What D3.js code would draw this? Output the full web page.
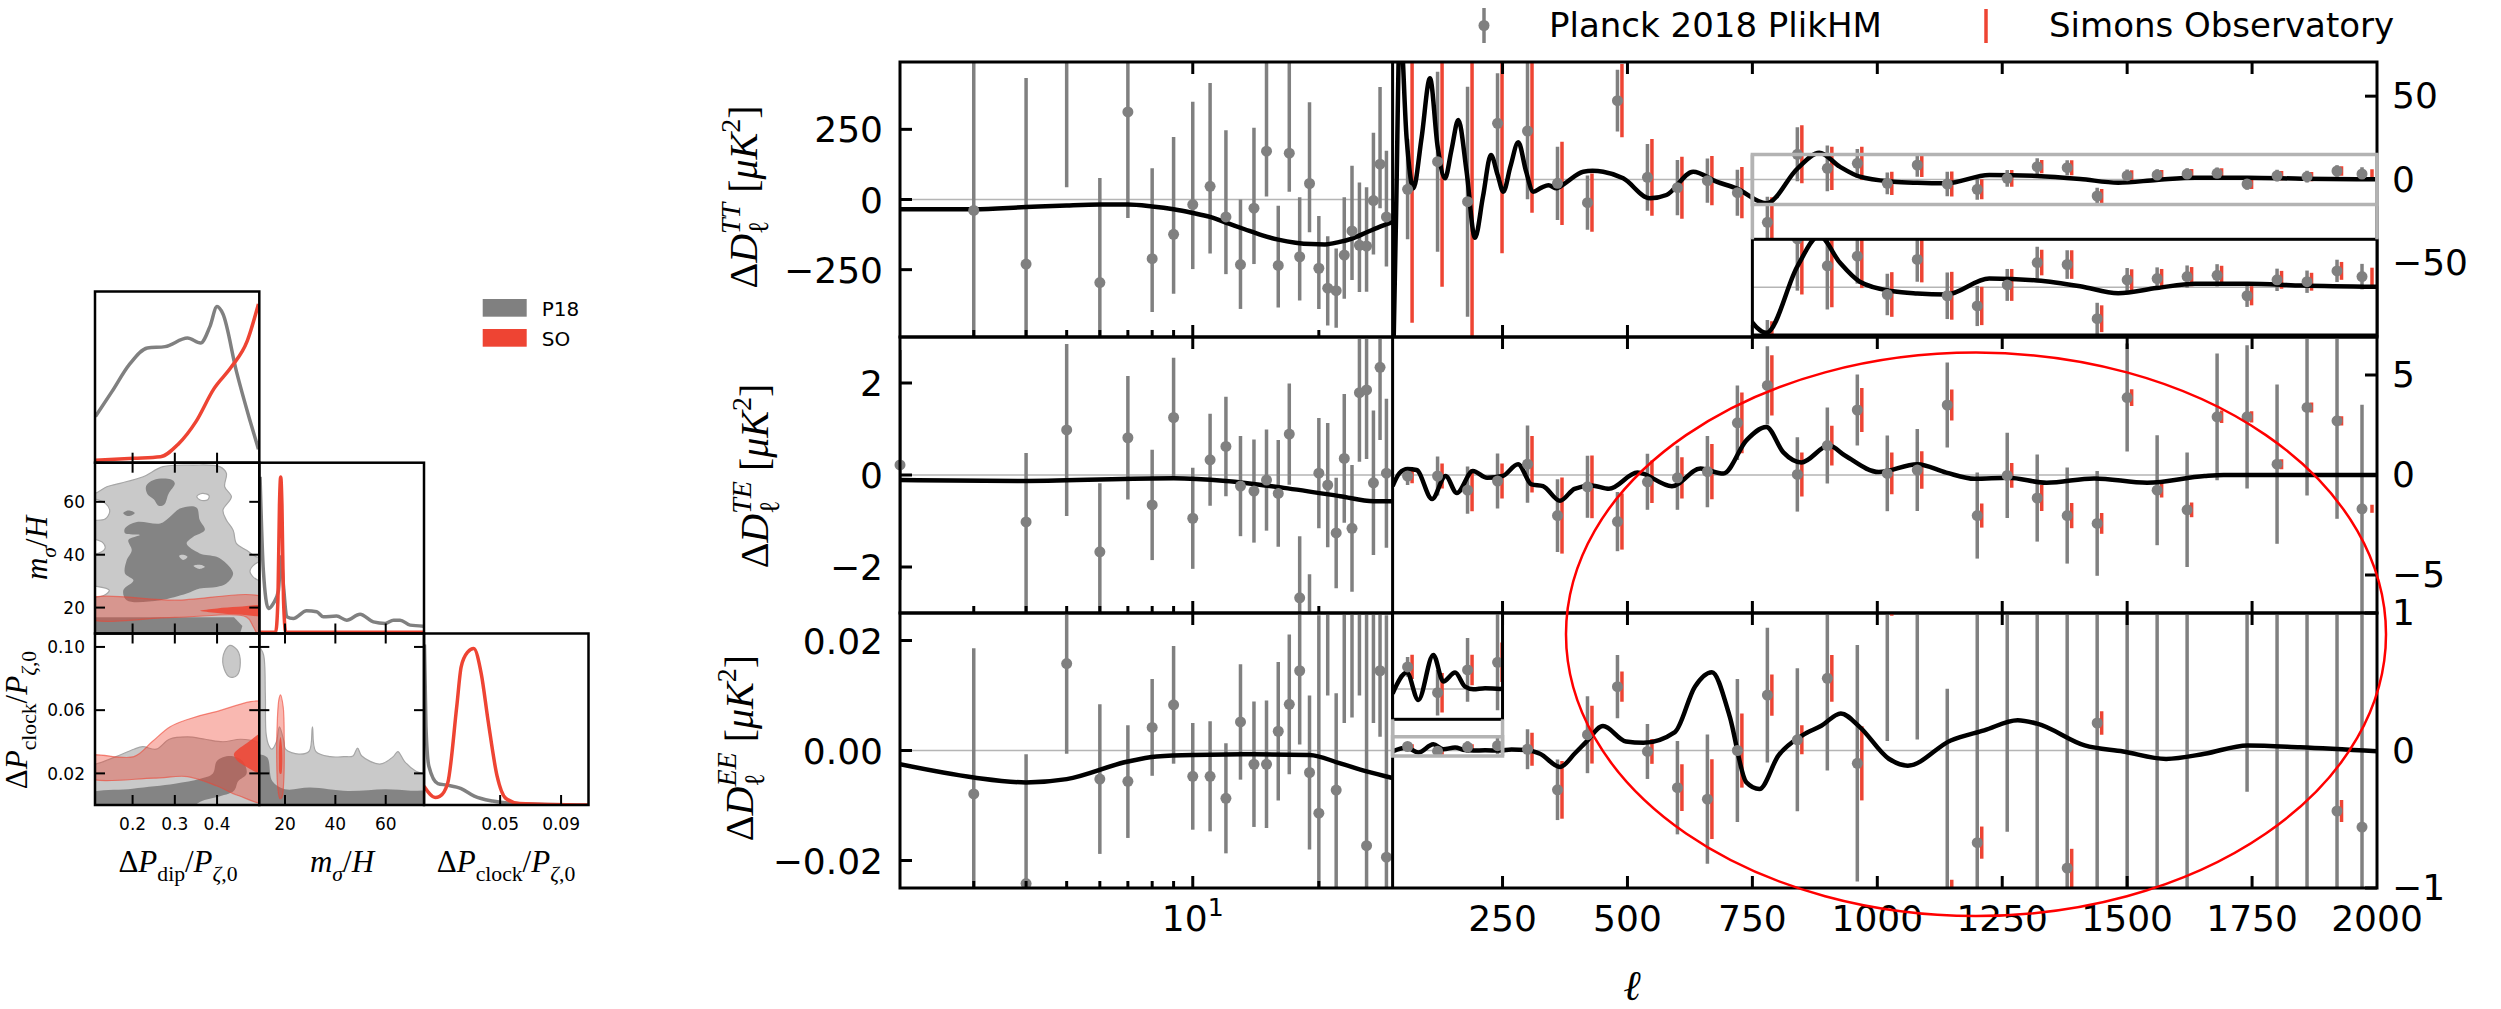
<!DOCTYPE html>
<html>
<head>
<meta charset="utf-8">
<title>Clock signal: posteriors and residual spectra</title>
<script src="https://cdn.jsdelivr.net/npm/d3@7"></script>
<style>
	html, body { margin: 0; padding: 0; background: #fff; }
	svg { display: block; }
</style>
</head>
<body>
<svg id="fig" width="2501" height="1009"></svg>
<script>
// ---------------- triangle plot: 1D marginals (normalised height) ----------------
const dipP18X = [0.112, 0.151, 0.193, 0.235, 0.277, 0.33, 0.361, 0.383, 0.40, 0.414, 0.446, 0.477, 0.498];
const dipP18Y = [0.269, 0.415, 0.576, 0.670, 0.678, 0.728, 0.699, 0.795, 0.912, 0.868, 0.532, 0.254, 0.079];
const dipSOX = [0.112, 0.203, 0.266, 0.308, 0.35, 0.392, 0.434, 0.471, 0.498];
const dipSOY = [0.015, 0.026, 0.035, 0.108, 0.24, 0.43, 0.56, 0.708, 0.927];
const msP18X = [10.1, 11.4, 13.4, 15.4, 17.4, 18.4, 19.4, 20.7, 23.3, 28.6, 32.6, 35.2, 40.5, 44.5, 49.8, 55.1, 59.8, 63.1, 65.7, 69.7, 75];
const msP18Y = [0.917, 0.371, 0.147, 0.177, 0.25, 0.45, 0.28, 0.098, 0.088, 0.133, 0.127, 0.098, 0.102, 0.078, 0.113, 0.068, 0.059, 0.078, 0.078, 0.049, 0.043];
const msSOX = [10, 16.3, 17.2, 17.8, 18.3, 18.8, 19.4, 20.3, 75];
const msSOY = [0.007, 0.008, 0.2, 0.75, 0.917, 0.75, 0.2, 0.008, 0.007];
const clkP18X = [0.0003, 0.0013, 0.0032, 0.0091, 0.015, 0.0244, 0.033, 0.045, 0.059, 0.108];
const clkP18Y = [0.936, 0.457, 0.226, 0.125, 0.116, 0.096, 0.052, 0.023, 0.009, 0];
const clkSOX = [0, 0.0074, 0.0103, 0.0155, 0.0215, 0.0244, 0.0288, 0.0326, 0.0376, 0.0421, 0.048, 0.0538, 0.0627, 0.108];
const clkSOY = [0.11, 0.044, 0.05, 0.125, 0.574, 0.806, 0.893, 0.913, 0.765, 0.49, 0.168, 0.038, 0.009, 0];

// ---------------- triangle plot: 2D contours (outlines in parameter units) ----------------
// dip vs m_sigma/H
const dipMsP18Outer = [[0.09,63.2],[0.111,63.2],[0.139,65.7],[0.17,67],[0.225,69.5],[0.272,73.3],[0.343,73.9],[0.406,73.3],[0.422,70.8],[0.418,65.7],[0.434,61.9],[0.414,56.9],[0.422,53.1],[0.438,49.3],[0.446,44.2],[0.47,41.7],[0.493,39.2],[0.52,38.5],[0.52,8],[0.09,8]];
const dipMsHoles = [
	[[0.352,62],[0.365,63.2],[0.381,62.4],[0.378,60.8],[0.36,60.7]],
	[[0.09,61],[0.111,61],[0.135,59.5],[0.146,56.5],[0.135,53.5],[0.111,53],[0.09,53]],
	[[0.09,46],[0.111,45.8],[0.13,44.5],[0.135,42.5],[0.12,40.6],[0.09,40.5]],
	[[0.09,28],[0.115,28],[0.145,26.5],[0.13,24.5],[0.09,24.5]],
	[[0.52,37.5],[0.49,36.5],[0.478,33.5],[0.495,30.5],[0.52,30]]
];
const dipMsP18Inner = [
	[[0.232,66],[0.25,68.3],[0.29,68.5],[0.3,67],[0.285,63],[0.275,59],[0.262,58.5],[0.25,61],[0.235,63]],
	[[0.178,55.7],[0.19,56.7],[0.205,55.8],[0.19,54.6]],
	[[0.182,50],[0.21,52.4],[0.265,51.8],[0.288,54.3],[0.312,57.5],[0.351,57.9],[0.359,53.1],[0.371,49.3],[0.343,46.7],[0.328,44.2],[0.359,40.5],[0.399,39.2],[0.422,36.7],[0.438,32.9],[0.422,29.1],[0.399,27.8],[0.359,27.2],[0.328,25.3],[0.265,22.8],[0.186,22.8],[0.178,26.6],[0.202,30.3],[0.182,32.9],[0.186,37.9],[0.198,41.7],[0.19,45.6],[0.217,47.5],[0.182,48.1]]
];
const dipMsP18Spots = [
	[[0.31,39.6],[0.32,40],[0.33,39.2],[0.32,38]],
	[[0.344,35.8],[0.36,36.2],[0.371,35.4],[0.358,34.6]]
];
const dipMsP18Strip = [[0.09,16.3],[0.44,16.3],[0.46,13],[0.45,8],[0.09,8]];
const dipMsSOOuter = [[0.09,22.8],[0.3,22.8],[0.52,23],[0.52,9],[0.5,9],[0.485,13],[0.47,16.4],[0.3,16.3],[0.09,16.3]];
const dipMsSOInner = [[0.36,18.8],[0.4,19.7],[0.45,20.3],[0.52,20.5],[0.52,17.2],[0.45,17.4],[0.4,18]];
// dip vs clock
const dipClkP18Outer = [[0.09,0.0259],[0.112,0.0259],[0.161,0.0306],[0.203,0.0353],[0.224,0.0369],[0.256,0.0353],[0.287,0.0416],[0.33,0.0431],[0.372,0.0416],[0.414,0.04],[0.456,0.0416],[0.493,0.04],[0.52,0.035],[0.52,-0.01],[0.09,-0.01]];
const dipClkP18Island = [[0.415,0.095],[0.43,0.101],[0.448,0.098],[0.455,0.09],[0.447,0.082],[0.43,0.081],[0.417,0.086]];
const dipClkP18Inner = [[0.09,0.006],[0.2,0.0103],[0.3,0.0135],[0.36,0.0166],[0.39,0.02],[0.4,0.028],[0.43,0.031],[0.46,0.028],[0.47,0.02],[0.45,0.015],[0.44,0.009],[0.4,0.005],[0.36,0.002],[0.3,-0.01],[0.09,-0.01]];
const dipClkSOOuter = [[0.09,0.0306],[0.203,0.0306],[0.246,0.04],[0.288,0.0494],[0.33,0.0541],[0.393,0.0588],[0.52,0.064],[0.52,0.002],[0.45,0.006],[0.40,0.012],[0.33,0.018],[0.25,0.017],[0.09,0.018]];
const dipClkSOInner = [[0.44,0.0322],[0.47,0.039],[0.52,0.047],[0.52,0.019],[0.47,0.024],[0.445,0.029]];
// m_sigma/H vs clock
const msClkP18Outer = [[8,0.105],[10,0.1],[11.5,0.095],[12.2,0.07],[12.5,0.045],[13.5,0.038],[14.8,0.0353],[16.6,0.04],[17.8,0.0494],[19.6,0.04],[20.2,0.0353],[25.5,0.0322],[29.6,0.034],[30.9,0.0494],[32.2,0.034],[38,0.0306],[43.4,0.0306],[47,0.031],[48.8,0.036],[50.5,0.031],[57.7,0.0259],[63,0.0306],[64.8,0.0338],[67.5,0.0275],[72,0.0213],[77,0.018],[77,-0.01],[8,-0.01]];
const msClkP18Inner = [[8,0.032],[10,0.032],[13,0.03],[15,0.015],[20,0.01],[30,0.011],[45,0.0088],[60,0.01],[70,0.009],[77,0.008],[77,-0.01],[8,-0.01]];
const msClkSOOuter = [[18.2,0.0697],[19.3,0.062],[19.7,0.04],[19.5,0.015],[18.8,0.005],[18,0.004],[17.2,0.01],[16.7,0.03],[17,0.055],[17.6,0.067]];
const msClkSOInner = [[18.2,0.043],[18.8,0.037],[18.9,0.025],[18.5,0.0197],[17.9,0.02],[17.6,0.028],[17.7,0.038]];

const dipTicks = [0.2, 0.3, 0.4];
const msTicks = [20, 40, 60];
const clkXTicks = [0.05, 0.09];
const clkYTicks = [0.02, 0.06, 0.10];

// ---------------- residual spectra: low-ell (log axis, Planck only) ----------------
const ttLowEll = [3,4,5,6,7,8,9,10,11,12,13,14,15,16,17,18,19,20,21,22,23,24,25,26,27,28,29];
const ttLowVal = [-39,-230,650,-296,312,-211,-124,-18,47,-62,-232,-31,172,-235,165,-204,57,-245,-316,-325,-198,-112,-163,-166,-4,126,-62];
const ttLowErrHi = [600,663,600,373,400,322,347,366,368,309,232,287,330,213,321,212,290,186,185,150,206,232,224,210,242,275,236];
const ttLowErrLo = [600,500,606,400,378,190,212,230,239,204,158,199,161,150,137,156,174,145,133,132,156,175,167,163,192,157,177];

const teLowEll = [2,4,5,6,7,8,9,10,11,12,13,14,15,16,17,18,19,20,21,22,23,24,25,26,27,28,29];
const teLowVal = [0.22,-1.02,0.98,-1.67,0.81,-0.65,1.25,-0.94,0.33,0.62,-0.24,-0.35,-0.11,-0.4,0.89,-2.67,-3.3,0.04,-0.22,-1.26,0.36,-1.16,1.79,1.85,-0.17,2.34,0.04];
const teLowErrHi = [2.5,1.5,1.87,1.49,1.34,1.2,1.3,1.1,1.0,1.08,1.09,1.12,1.1,1.16,1.1,1.34,1.14,1.2,1.35,1.2,1.4,1.38,1.5,1.5,1.57,1.58,1.62];
const teLowErrLo = [2.5,2.5,1.87,1.5,1.34,1.2,1.3,1.1,1.0,1.08,1.09,1.12,1.1,1.16,1.1,1.34,1.14,1.2,1.35,1.2,1.4,1.38,1.5,1.5,1.57,1.58,1.62];

const eeLowEll = [3,4,5,6,7,8,9,10,11,12,13,14,15,16,17,18,19,20,21,22,23,24,25,26,27,28,29];
const eeLowVal = [-0.0079,-0.0242,0.0158,-0.0052,-0.0056,0.0042,0.0083,-0.0047,-0.0047,-0.0087,0.0052,-0.0025,-0.0025,0.0035,0.0084,0.0145,-0.004,-0.0114,0.03,-0.0072,0.03,0.028,0.035,-0.0173,0.035,0.0145,-0.0194];
const eeLowErrHi = [0.0265,0.0235,0.02,0.0136,0.0102,0.0088,0.0107,0.0097,0.01,0.01,0.0105,0.0114,0.0116,0.0126,0.0127,0.0134,0.014,0.036,0.02,0.0176,0.025,0.022,0.025,0.042,0.03,0.03,0.044];
const eeLowErrLo = [0.025,0.02,0.0164,0.0136,0.0103,0.0088,0.0107,0.0097,0.01,0.01,0.0105,0.0114,0.0116,0.0126,0.0127,0.0134,0.014,0.016,0.02,0.025,0.025,0.022,0.025,0.01,0.03,0.012,0.01];

// ---------------- residual spectra: high-ell (linear axis, Planck + SO) ----------------
const highEll = [60,120,180,240,300,360,420,480,540,600,660,720,780,840,900,960,1020,1080,1140,1200,1260,1320,1380,1440,1500,1560,1620,1680,1740,1800,1860,1920,1970];
const soEll = [69,129,189,249,309,369,429,489,549,609,669,729,789,849,909,969,1029,1089,1149,1209,1269,1329,1389,1449,1509,1569,1629,1689,1749,1809,1869,1929,1990];

const ttHighVal = [-5.9,10.7,-13.3,33.7,29.1,-2.3,-13.9,47.3,1.3,-4.9,-0.7,-7.9,-25.7,15.1,6.7,9.7,-2.3,8.7,-2.7,-5.9,0.7,7.7,7.1,-9.9,2.3,2.7,3.3,3.7,-2.7,2.3,1.7,5.1,3.3];
const ttHighErr = [30,54,69,30,41,22,16.3,18.5,20,16.6,13.3,13.8,15.4,16.2,13.7,8.6,6.5,7,7.3,6.3,5,5,4.5,5,3.7,3.5,3.5,3.5,3.5,3.5,3.5,3.5,4];
const ttSoErr = [80,75,100,78,49,25,17.5,22,23,18.6,14.8,15.4,15,17.4,13,10,7,7.2,7.5,6,5,4,4.5,4.2,3.3,3,3,3,3,2.8,2.8,2.8,2.8];

const teHighVal = [-0.05,-0.05,-0.76,-0.3,0.54,-2.03,-0.59,-2.33,-0.34,-0.14,0.17,2.61,4.48,0.03,1.47,3.25,0.08,0.25,3.5,-2.03,-0.02,-1.15,-2.03,-2.42,3.87,-0.76,-1.74,2.91,2.91,0.54,3.38,2.71,-1.69];
const teHighErr = [0.45,0.97,1.18,1.37,1.93,1.82,1.55,1.48,1.4,1.6,1.78,1.86,1.96,1.86,1.9,1.78,1.89,2.05,2.13,2.15,2.13,2.18,2.4,2.62,2.7,2.75,2.86,3.17,3.58,3.98,4.4,4.9,5.2];
const teSoErr = [0.36,0.62,1.05,0.88,1.41,1.9,1.57,1.4,1.06,1.03,1.38,1.52,1.51,1.1,0.99,1.1,1.04,0.94,0.78,0.6,0.62,0.65,0.63,0.52,0.42,0.36,0.37,0.31,0.28,0.25,0.25,0.23,0.2];

const eeHighVal = [0.029,-0.005,0.025,0.035,0.009,-0.286,0.115,0.464,-0.007,-0.27,-0.354,0,0.403,0.078,0.525,-0.093,1.05,1.2,-1.1,-0.67,1.3,1.5,-0.855,0.2,1.6,-1.5,1.7,4.5,1.5,-1.3,1.4,-0.44,-0.557];
const eeHighErr = [0.013,0.03,0.042,0.063,0.145,0.22,0.28,0.23,0.2,0.34,0.47,0.52,0.49,0.52,0.67,0.86,0.98,1.12,1.55,1.7,1.89,3,1.9,2,3,3,3,3,1.8,2.5,2.6,2.7,2.8];
const eeSoErr = [0.016,0.026,0.02,0.026,0.12,0.21,0.21,0.11,0.09,0.17,0.29,0.27,0.15,0.105,0.17,0.27,0.07,0.12,0.16,0.117,0.12,0.12,0.14,0.085,0.1,0.1,0.1,0.1,0.1,0.1,0.1,0.08,null];

// ---------------- best-fit residual model curves [ell, value] ----------------
const ttLowCurve = [[2,-35],[3,-35],[4,-27],[5,-21],[6,-18],[7,-18],[8,-25],[9,-35],[10,-48],[11,-62],[12.2,-86],[13.3,-106],[14.6,-127],[16,-143],[17.6,-154],[19.2,-159],[20.7,-160],[22.3,-152],[24,-139],[26.1,-116],[28.2,-95],[30,-80]];
const ttHighCurve = [[30,-130],[37,-20],[44.8,95],[58,25],[71.5,-5.3],[88,25],[104.8,60.7],[120,20],[134.8,0.7],[148,18],[161.5,35.7],[178,5],[194.8,-35],[211,-10],[226.8,14.7],[240,3],[251.5,-7.3],[266,8],[281.5,22.3],[297,5],[311.5,-7.3],[328,-4.9],[342,-3.4],[358,-5.3],[375,-2.3],[411.5,4.7],[430,5.2],[451.5,4.7],[491.5,0.7],[544.8,-11.3],[578,-9.3],[631.5,4.7],[678,-1.3],[718,-5.3],[778,-14.3],[840.6,6.7],[883.7,16.1],[925,7.7],[965,1.7],[1032,-1.3],[1080,-2.0],[1138,-2.3],[1224,2.7],[1320,2.1],[1406,0.3],[1482,-1.9],[1559,-0.3],[1636,1.1],[1741,1.1],[1850,0.5],[2000,0.1]];
const teLowCurve = [[2,-0.11],[4,-0.13],[9,-0.07],[12,-0.13],[16.5,-0.28],[22.5,-0.46],[27,-0.57],[30,-0.57]];
const teHighCurve = [[30,-0.56],[44,0.1],[60,0.3],[78,0.25],[109,-1.2],[136,-0.05],[158.5,-0.9],[190.7,0.2],[219,-0.14],[250,-0.05],[281,0.54],[308,-0.47],[331,-0.56],[365,-1.29],[394,-0.69],[428,-0.52],[463,-0.69],[520,0.12],[589,-0.56],[646,0.32],[692,0.07],[738,1.73],[778,2.4],[812,1.13],[848,0.63],[903,1.47],[936,0.96],[1003,0.15],[1080,0.54],[1138,0.12],[1195,-0.19],[1262,-0.14],[1339,-0.39],[1434,-0.17],[1540,-0.39],[1655,-0.05],[1693,0],[2000,0]];
const eeLowCurve = [[2,-0.0025],[3,-0.0049],[4,-0.0058],[5,-0.0052],[7,-0.002],[8.2,-0.0011],[10,-0.0008],[14,-0.0007],[19,-0.0008],[22.4,-0.0023],[26,-0.0038],[30,-0.005]];
const eeHighCurve = [[30,-0.006],[58.5,0.0215],[81.5,-0.0145],[111.5,0.0448],[131.5,0.0097],[155,0.0215],[175,0.003],[191.5,-0.0004],[215,0.001],[245,0],[268,0.007],[300,0.002],[325,-0.024],[365,-0.12],[395,-0.02],[417,0.061],[451,0.178],[497,0.066],[532,0.056],[595,0.134],[635,0.464],[669,0.569],[704,0.256],[738,-0.232],[764,-0.28],[802,-0.037],[850,0.11],[888,0.18],[927,0.27],[965,0.17],[1023,-0.06],[1061,-0.11],[1147,0.073],[1214,0.147],[1281,0.22],[1320,0.195],[1415,0.037],[1492,-0.007],[1578,-0.061],[1655,-0.024],[1741,0.037],[1846,0.024],[2000,-0.005]];

// ---------------- style ----------------
const SANS = "'DejaVu Sans', sans-serif";
const SERIF = "'Liberation Serif', 'DejaVu Serif', serif";
const GRAY = '#808080';
const RED = '#ee4433';
const LIGHT_GRAY = '#c9c9c9';
const EDGE_GRAY = '#a6a6a6';
const DARK_GRAY = '#848484';

const svg = d3.select('#fig');
const defs = svg.append('defs');
let clipCount = 0;

function makeClip(x, y, w, h) {
	var id = 'clip-' + (clipCount++);
	defs.append('clipPath').attr('id', id)
		.append('rect').attr('x', x).attr('y', y).attr('width', w).attr('height', h);
	return 'url(#' + id + ')';
}

// mathtext-like label: parts are [string, kind, stackedUnderPrevious]
function mathText(parent, parts, size) {
	var text = parent.append('text')
		.attr('font-family', SERIF)
		.attr('font-size', size)
		.attr('text-anchor', 'middle')
		.attr('fill', '#000');
	var shift = 0, prev = null, pad = 0;
	parts.forEach(function(p) {
		var kind = p[1];
		var isSub = kind.indexOf('sub') == 0, isSup = kind.indexOf('sup') == 0;
		var target = isSub ? 0.28 * size : (isSup ? -0.42 * size : 0);
		var span = text.append('tspan')
			.text(p[0])
			.attr('dy', target - shift)
			.attr('font-size', (isSub || isSup) ? 0.7 * size : size)
			.attr('font-style', kind.slice(-1) == 'i' ? 'italic' : 'normal');
		if (p[2] && prev) {
			var prevLen = prev.node().getComputedTextLength();
			span.attr('dx', -prevLen);
			pad = Math.max(0, prevLen - span.node().getComputedTextLength());
		} else if (pad) {
			span.attr('dx', pad);
			pad = 0;
		}
		shift = target;
		prev = span;
	});
	return text;
}

// ================= triangle plot =================
const Triangle = {
	cols: [[95, 259.3], [259.3, 424], [424, 588.5]],
	rows: [[291.5, 462.7], [462.7, 633.5], [633.5, 805]],
	tickLen: 10,
	fontSize: 17,

	draw: function(root) {
		const self = this;
		var c = self.cols, r = self.rows;
		var xDip = d3.scaleLinear().domain([0.111, 0.5]).range(c[0]);
		var xMs = d3.scaleLinear().domain([9.8, 75.2]).range(c[1]);
		var xClk = d3.scaleLinear().domain([0, 0.108]).range(c[2]);
		var yMs = d3.scaleLinear().domain([10.2, 74.8]).range([r[1][1], r[1][0]]);
		var yClk = d3.scaleLinear().domain([0, 0.1085]).range([r[2][1], r[2][0]]);
		var g = root.append('g').attr('class', 'triangle');

		self.marginal(g, xDip, r[0], [[dipP18X, dipP18Y, GRAY], [dipSOX, dipSOY, RED]], dipTicks);
		self.marginal(g, xMs, r[1], [[msP18X, msP18Y, GRAY], [msSOX, msSOY, RED]], msTicks);
		self.marginal(g, xClk, r[2], [[clkP18X, clkP18Y, GRAY], [clkSOX, clkSOY, RED]], clkXTicks);

		var layers = [{ pts: dipMsP18Outer, fill: LIGHT_GRAY, stroke: EDGE_GRAY }];
		dipMsHoles.forEach(function(h) { layers.push({ pts: h, fill: '#fff', stroke: EDGE_GRAY }); });
		dipMsP18Inner.forEach(function(h) { layers.push({ pts: h, fill: DARK_GRAY }); });
		dipMsP18Spots.forEach(function(h) { layers.push({ pts: h, fill: LIGHT_GRAY }); });
		layers.push({ pts: dipMsP18Strip, fill: DARK_GRAY, linear: true });
		layers.push({ pts: dipMsSOOuter, fill: RED, opacity: 0.38, stroke: RED });
		layers.push({ pts: dipMsSOInner, fill: RED, opacity: 0.85 });
		self.joint(g, xDip, yMs, layers, dipTicks, msTicks);

		self.joint(g, xDip, yClk, [
			{ pts: dipClkP18Outer, fill: LIGHT_GRAY, stroke: EDGE_GRAY },
			{ pts: dipClkP18Island, fill: LIGHT_GRAY, stroke: EDGE_GRAY },
			{ pts: dipClkP18Inner, fill: DARK_GRAY },
			{ pts: dipClkSOOuter, fill: RED, opacity: 0.38, stroke: RED },
			{ pts: dipClkSOInner, fill: RED, opacity: 0.85 }
		], dipTicks, clkYTicks);

		self.joint(g, xMs, yClk, [
			{ pts: msClkP18Outer, fill: LIGHT_GRAY, stroke: EDGE_GRAY },
			{ pts: msClkP18Inner, fill: DARK_GRAY },
			{ pts: msClkSOOuter, fill: RED, opacity: 0.38, stroke: RED },
			{ pts: msClkSOInner, fill: RED, opacity: 0.85 }
		], msTicks, clkYTicks);

		// tick labels
		var fmt1 = d3.format('.1f'), fmt2 = d3.format('.2f'), fmtD = d3.format('d');
		var by = r[2][1] + 24.5;
		self.xLabels(g, xDip, dipTicks, fmt1, by);
		self.xLabels(g, xMs, msTicks, fmtD, by);
		self.xLabels(g, xClk, clkXTicks, fmt2, by);
		self.yLabels(g, yMs, msTicks, fmtD, 85);
		self.yLabels(g, yClk, clkYTicks, fmt2, 85);

		// axis labels
		var P = [['Δ', 'r'], ['P', 'i']];
		var ratio = [['/', 'r'], ['P', 'i'], ['ζ', 'subi'], [',0', 'subr']];
		var ms = [['m', 'i'], ['σ', 'subi'], ['/', 'r'], ['H', 'i']];
		mathText(g.append('g').attr('transform', 'translate(178,872)'), P.concat([['dip', 'subr']], ratio), 31);
		mathText(g.append('g').attr('transform', 'translate(342,872)'), ms, 31);
		mathText(g.append('g').attr('transform', 'translate(506,872)'), P.concat([['clock', 'subr']], ratio), 31);
		mathText(g.append('g').attr('transform', 'translate(47,548) rotate(-90)'), ms, 31);
		mathText(g.append('g').attr('transform', 'translate(27,720) rotate(-90)'), P.concat([['clock', 'subr']], ratio), 31);

		// legend
		var legend = g.append('g').attr('font-family', SANS).attr('font-size', 20);
		[['P18', GRAY, 299], ['SO', RED, 329]].forEach(function(d) {
			legend.append('rect').attr('x', 482.7).attr('y', d[2]).attr('width', 44).attr('height', 17.7).attr('fill', d[1]);
			legend.append('text').attr('x', 541.7).attr('y', d[2] + 16.7).text(d[0]);
		});
	},
	marginal: function(g, x, row, series, ticks) {
		const self = this;
		var y = d3.scaleLinear().domain([0, 1]).range([row[1], row[0]]);
		var x0 = x.range()[0], x1 = x.range()[1];
		var inner = g.append('g').attr('clip-path', makeClip(x0, row[0], x1 - x0, row[1] - row[0]));
		series.forEach(function(s) {
			var pts = s[0].map(function(v, i) { return [v, s[1][i]]; });
			inner.append('path')
				.attr('d', d3.line().x(function(d) { return x(d[0]); }).y(function(d) { return y(d[1]); })
					.curve(d3.curveMonotoneX)(pts))
				.attr('fill', 'none').attr('stroke', s[2]).attr('stroke-width', 3.5);
		});
		self.frame(g, x0, row[0], x1, row[1]);
		ticks.forEach(function(t) {
			g.append('line').attr('x1', x(t)).attr('x2', x(t))
				.attr('y1', row[1]).attr('y2', row[1] - self.tickLen)
				.attr('stroke', '#000').attr('stroke-width', 2);
		});
	},
	joint: function(g, x, y, layers, xt, yt) {
		const self = this;
		var x0 = x.range()[0], x1 = x.range()[1], y0 = y.range()[1], y1 = y.range()[0];
		var inner = g.append('g').attr('clip-path', makeClip(x0, y0, x1 - x0, y1 - y0));
		layers.forEach(function(l) {
			var line = d3.line().x(function(d) { return x(d[0]); }).y(function(d) { return y(d[1]); })
				.curve(l.linear ? d3.curveLinearClosed : d3.curveCatmullRomClosed.alpha(0.5));
			inner.append('path').attr('d', line(l.pts))
				.attr('fill', l.fill)
				.attr('fill-opacity', l.opacity || 1)
				.attr('stroke', l.stroke || 'none')
				.attr('stroke-opacity', l.stroke == RED ? 0.6 : 1)
				.attr('stroke-width', 1.2);
		});
		self.frame(g, x0, y0, x1, y1);
		var tl = self.tickLen;
		xt.forEach(function(t) {
			[[y1, y1 - tl], [y0, y0 + tl]].forEach(function(s) {
				g.append('line').attr('x1', x(t)).attr('x2', x(t)).attr('y1', s[0]).attr('y2', s[1])
					.attr('stroke', '#000').attr('stroke-width', 2);
			});
		});
		yt.forEach(function(t) {
			[[x0, x0 + tl], [x1, x1 - tl]].forEach(function(s) {
				g.append('line').attr('y1', y(t)).attr('y2', y(t)).attr('x1', s[0]).attr('x2', s[1])
					.attr('stroke', '#000').attr('stroke-width', 2);
			});
		});
	},
	frame: function(g, x0, y0, x1, y1) {
		g.append('rect').attr('x', x0).attr('y', y0).attr('width', x1 - x0).attr('height', y1 - y0)
			.attr('fill', 'none').attr('stroke', '#000').attr('stroke-width', 2.5);
	},
	xLabels: function(g, x, ticks, fmt, by) {
		const self = this;
		ticks.forEach(function(t) {
			g.append('text').attr('x', x(t)).attr('y', by)
				.attr('text-anchor', 'middle').attr('font-family', SANS).attr('font-size', self.fontSize)
				.text(fmt(t));
		});
	},
	yLabels: function(g, y, ticks, fmt, ax) {
		const self = this;
		ticks.forEach(function(t) {
			g.append('text').attr('x', ax).attr('y', y(t) + 6.2)
				.attr('text-anchor', 'end').attr('font-family', SANS).attr('font-size', self.fontSize)
				.text(fmt(t));
		});
	}
};

// ================= residual spectra =================
const Spectra = {
	x0: 900, xSplit: 1392.6, x1: 2377,
	majorLen: 12, minorLen: 7,
	tickFont: 36,
	dotRadius: 5.5,
	barWidth: 3.5,
	lowMajor: [10],
	lowMinor: [3, 4, 5, 6, 7, 8, 9, 20],
	highMajor: [250, 500, 750, 1000, 1250, 1500, 1750],
	highLabels: [250, 500, 750, 1000, 1250, 1500, 1750, 2000],

	panels: [
		{ name: 'TT', top: 62, bottom: 337, leftDom: [-490, 490], rightDom: [-94.5, 70.5],
		  leftTicks: [-250, 0, 250], rightTicks: [-50, 0, 50], leftFmt: 'd', labelPos: [757, 197],
		  low: { ell: ttLowEll, val: ttLowVal, lo: ttLowErrLo, hi: ttLowErrHi, curve: ttLowCurve },
		  high: { val: ttHighVal, err: ttHighErr, so: ttSoErr, curve: ttHighCurve } },
		{ name: 'TE', top: 337, bottom: 613, leftDom: [-3, 3], rightDom: [-6.9, 6.9],
		  leftTicks: [-2, 0, 2], rightTicks: [-5, 0, 5], leftFmt: 'd', labelPos: [768, 476],
		  low: { ell: teLowEll, val: teLowVal, lo: teLowErrLo, hi: teLowErrHi, curve: teLowCurve },
		  high: { val: teHighVal, err: teHighErr, so: teSoErr, curve: teHighCurve } },
		{ name: 'EE', top: 613, bottom: 888, leftDom: [-0.025, 0.025], rightDom: [-1, 1],
		  leftTicks: [-0.02, 0, 0.02], rightTicks: [-1, 0, 1], leftFmt: '.2f', labelPos: [753, 748],
		  low: { ell: eeLowEll, val: eeLowVal, lo: eeLowErrLo, hi: eeLowErrHi, curve: eeLowCurve },
		  high: { val: eeHighVal, err: eeHighErr, so: eeSoErr, curve: eeHighCurve } }
	],
	insets: [
		{ panel: 0, ell: [750, 2000], dom: [-15, 15], top: 239.3, bottom: 335, link: 'down' },
		{ panel: 2, ell: [30, 250], dom: [-0.04, 0.1], top: 613, bottom: 719.3, link: 'up' }
	],

	init: function() {
		const self = this;
		self.xLow = d3.scaleLog().domain([2, 30]).range([self.x0, self.xSplit]);
		self.xHigh = d3.scaleLinear().domain([30, 2000]).range([self.xSplit, self.x1]);
	},
	draw: function(root) {
		const self = this;
		self.init();
		var g = root.append('g').attr('class', 'spectra');
		self.panels.forEach(function(p) { self.drawPanel(g, p); });
		self.insets.forEach(function(s) { self.drawInset(g, s); });
		self.xAxisLabels(g);
		self.legend(g);

		// highlighted region
		g.append('ellipse').attr('cx', 1976).attr('cy', 634.3).attr('rx', 410).attr('ry', 281.7)
			.attr('fill', 'none').attr('stroke', '#ff0000').attr('stroke-width', 2.5);
	},
	drawPanel: function(root, p) {
		const self = this;
		var yL = d3.scaleLinear().domain(p.leftDom).range([p.bottom, p.top]);
		var yR = d3.scaleLinear().domain(p.rightDom).range([p.bottom, p.top]);
		p.yL = yL; p.yR = yR;
		var h = p.bottom - p.top;

		// low-ell half
		var gl = root.append('g').attr('clip-path', makeClip(self.x0, p.top, self.xSplit - self.x0, h));
		self.zeroLine(gl, self.x0, self.xSplit, yL(0));
		self.bars(gl, p.low.ell.map(self.xLow), p.low.val, p.low.lo, p.low.hi, yL, GRAY);
		self.curve(gl, p.low.curve, self.xLow, yL);

		// high-ell half
		var gh = root.append('g').attr('clip-path', makeClip(self.xSplit, p.top, self.x1 - self.xSplit, h));
		self.zeroLine(gh, self.xSplit, self.x1, yR(0));
		self.bars(gh, highEll.map(self.xHigh), p.high.val, p.high.err, p.high.err, yR, GRAY);
		self.bars(gh, soEll.map(self.xHigh), p.high.val, p.high.so, p.high.so, yR, RED);
		self.curve(gh, p.high.curve, self.xHigh, yR);

		self.dots(root, p.low.ell.map(self.xLow), p.low.val, yL, p.top, p.bottom);
		self.dots(root, highEll.map(self.xHigh), p.high.val, yR, p.top, p.bottom);

		self.axes(root, p);
	},
	zeroLine: function(g, xa, xb, y) {
		g.append('line').attr('x1', xa).attr('x2', xb).attr('y1', y).attr('y2', y)
			.attr('stroke', '#b5b5b5').attr('stroke-width', 1.5);
	},
	bars: function(g, xs, vals, lo, hi, y, color) {
		const self = this;
		xs.forEach(function(x, i) {
			if (lo[i] == null) return;
			g.append('line').attr('x1', x).attr('x2', x)
				.attr('y1', y(vals[i] - lo[i])).attr('y2', y(vals[i] + hi[i]))
				.attr('stroke', color).attr('stroke-width', self.barWidth);
		});
	},
	curve: function(g, pts, x, y) {
		g.append('path')
			.attr('d', d3.line().x(function(d) { return x(d[0]); }).y(function(d) { return y(d[1]); })
				.curve(d3.curveMonotoneX)(pts))
			.attr('fill', 'none').attr('stroke', '#000').attr('stroke-width', 4.5)
			.attr('stroke-linejoin', 'round');
	},
	dots: function(g, xs, vals, y, top, bottom) {
		const self = this;
		xs.forEach(function(x, i) {
			var cy = y(vals[i]);
			if (cy < top - 2 || cy > bottom + 2) return;
			g.append('circle').attr('cx', x).attr('cy', cy).attr('r', self.dotRadius).attr('fill', GRAY);
		});
	},
	axes: function(g, p) {
		const self = this;
		var ax = g.append('g').attr('stroke', '#000').attr('stroke-width', 3);
		ax.append('rect').attr('x', self.x0).attr('y', p.top)
			.attr('width', self.x1 - self.x0).attr('height', p.bottom - p.top).attr('fill', 'none');
		ax.append('line').attr('x1', self.xSplit).attr('x2', self.xSplit).attr('y1', p.top).attr('y2', p.bottom);

		var ml = self.majorLen;
		p.leftTicks.forEach(function(t) {
			ax.append('line').attr('x1', self.x0).attr('x2', self.x0 + ml).attr('y1', p.yL(t)).attr('y2', p.yL(t));
		});
		p.rightTicks.forEach(function(t) {
			ax.append('line').attr('x1', self.x1 - ml).attr('x2', self.x1).attr('y1', p.yR(t)).attr('y2', p.yR(t));
		});
		var majors = self.lowMajor.map(self.xLow).concat(self.highMajor.map(self.xHigh));
		majors.forEach(function(x) {
			ax.append('line').attr('x1', x).attr('x2', x).attr('y1', p.top).attr('y2', p.top + ml);
			ax.append('line').attr('x1', x).attr('x2', x).attr('y1', p.bottom).attr('y2', p.bottom - ml);
		});
		self.lowMinor.forEach(function(t) {
			var x = self.xLow(t);
			ax.append('line').attr('x1', x).attr('x2', x).attr('y1', p.bottom).attr('y2', p.bottom - self.minorLen);
		});

		var labels = g.append('g').attr('font-family', SANS).attr('font-size', self.tickFont);
		var fl = d3.format(p.leftFmt), fr = d3.format('d');
		p.leftTicks.forEach(function(t) {
			labels.append('text').attr('x', 883).attr('y', p.yL(t) + 13).attr('text-anchor', 'end').text(fl(t));
		});
		p.rightTicks.forEach(function(t) {
			labels.append('text').attr('x', 2392).attr('y', p.yR(t) + 12).text(fr(t));
		});

		mathText(g.append('g').attr('transform', 'translate(' + p.labelPos + ') rotate(-90)'),
			[['Δ', 'r'], ['D', 'i'], [p.name, 'supi'], ['ℓ', 'subr', true], [' [', 'r'], ['μK', 'i'], ['2', 'supr'], [']', 'r']], 40);
	},
	drawInset: function(root, s) {
		const self = this;
		var p = self.panels[s.panel];
		var xa = self.xHigh(s.ell[0]), xb = self.xHigh(s.ell[1]);
		var y = d3.scaleLinear().domain(s.dom).range([s.bottom, s.top]);
		var g = root.append('g').attr('class', 'inset');

		g.append('rect').attr('x', xa).attr('y', s.top).attr('width', xb - xa).attr('height', s.bottom - s.top)
			.attr('fill', '#fff');
		var inner = g.append('g').attr('clip-path', makeClip(xa, s.top, xb - xa, s.bottom - s.top));
		self.zeroLine(inner, xa, xb, y(0));
		self.bars(inner, highEll.map(self.xHigh), p.high.val, p.high.err, p.high.err, y, GRAY);
		self.bars(inner, soEll.map(self.xHigh), p.high.val, p.high.so, p.high.so, y, RED);
		self.curve(inner, p.high.curve, self.xHigh, y);
		self.dots(inner.append('g'), highEll.map(self.xHigh), p.high.val, y, s.top - 20, s.bottom + 20);
		g.append('rect').attr('x', xa).attr('y', s.top).attr('width', xb - xa).attr('height', s.bottom - s.top)
			.attr('fill', 'none').attr('stroke', '#000').attr('stroke-width', 3);

		// zoom box on the parent axes and its connectors
		var ra = p.yR(s.dom[1]), rb = p.yR(s.dom[0]);
		var mark = g.append('g').attr('stroke', '#b3b3b3').attr('stroke-width', 3.5).attr('fill', 'none');
		mark.append('rect').attr('x', xa).attr('y', ra).attr('width', xb - xa).attr('height', rb - ra);
		var from = s.link == 'down' ? ra : s.bottom;
		var to = s.link == 'down' ? s.top : rb;
		[xa, xb].forEach(function(x) {
			mark.append('line').attr('x1', x).attr('x2', x).attr('y1', from).attr('y2', to);
		});
	},
	xAxisLabels: function(g) {
		const self = this;
		var labels = g.append('g').attr('font-family', SANS).attr('font-size', self.tickFont)
			.attr('text-anchor', 'middle');
		var base = 931;
		var ten = labels.append('text').attr('x', self.xLow(10)).attr('y', base);
		ten.append('tspan').text('10');
		ten.append('tspan').text('1').attr('font-size', self.tickFont * 0.7).attr('dy', -15);
		self.highLabels.forEach(function(t) {
			labels.append('text').attr('x', self.xHigh(t)).attr('y', base).text(t);
		});
		g.append('text').attr('x', 1632).attr('y', 1000).attr('text-anchor', 'middle')
			.attr('font-family', SERIF).attr('font-style', 'italic').attr('font-size', 42).text('ℓ');
	},
	legend: function(g) {
		var lg = g.append('g').attr('font-family', SANS).attr('font-size', 34);
		lg.append('line').attr('x1', 1484).attr('x2', 1484).attr('y1', 8).attr('y2', 43)
			.attr('stroke', GRAY).attr('stroke-width', 3.5);
		lg.append('circle').attr('cx', 1484).attr('cy', 25.5).attr('r', 5.5).attr('fill', GRAY);
		lg.append('text').attr('x', 1549).attr('y', 37).text('Planck 2018 PlikHM');
		lg.append('line').attr('x1', 1986).attr('x2', 1986).attr('y1', 9).attr('y2', 43)
			.attr('stroke', RED).attr('stroke-width', 3.5);
		lg.append('text').attr('x', 2049).attr('y', 37).text('Simons Observatory');
	}
};

var root = svg.append('g');
Triangle.draw(root);
Spectra.draw(root);
</script>
</body>
</html>
